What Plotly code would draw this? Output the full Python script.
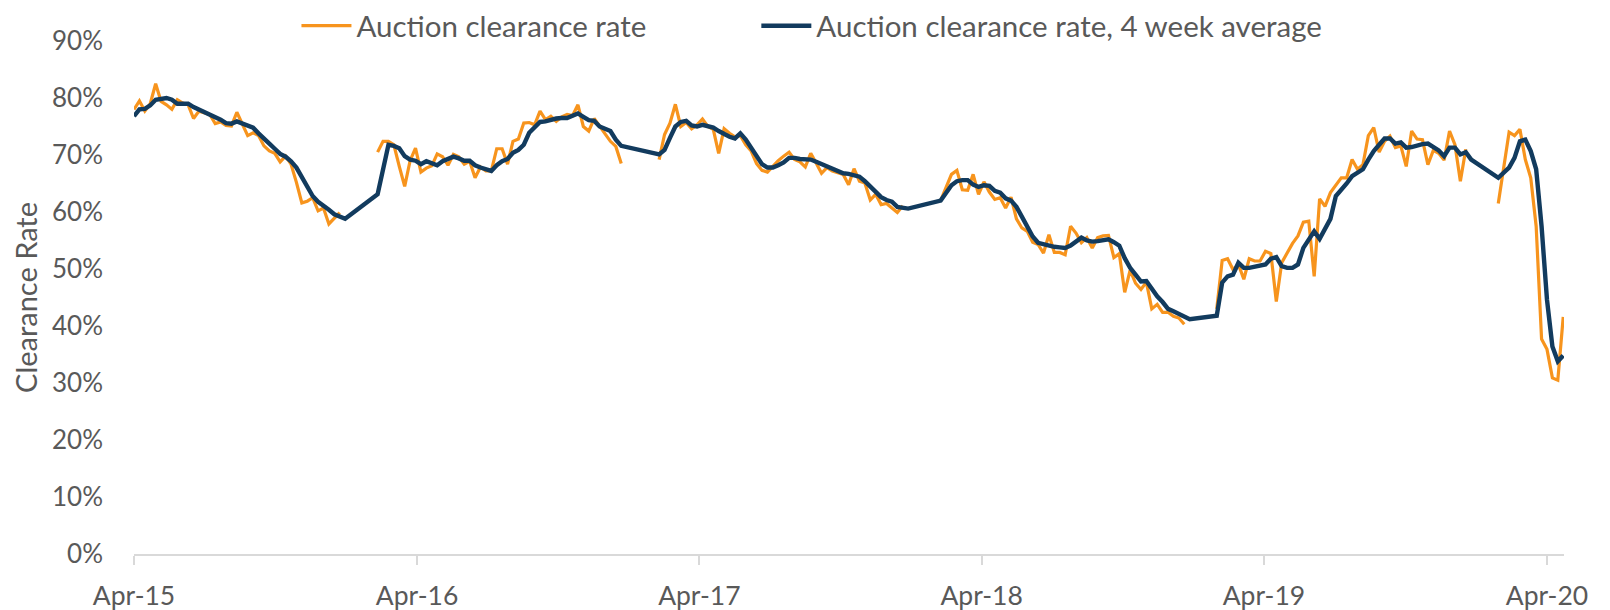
import pandas as pd
import plotly.graph_objects as go

# ---- data (weekly) ----
base_date = "2015-04-05"
season_week_offsets = [0, 45, 97, 149, 200, 252]

rate_s1 = [78.0, 79.5, 77.7, 79.0, 82.5, 79.4, 78.8, 78.0, 79.7, 79.1,
           78.8, 76.4, 77.7, 77.4, 77.1, 75.5, 75.8, 75.2, 75.1, 77.5,
           75.4, 73.4, 73.9, 73.4, 71.6, 70.7, 70.3, 68.8, 69.8, 68.4,
           65.2, 61.6, 61.9, 62.5, 60.2, 60.7, 57.9, 59.0, 59.9]
rate_s2 = [70.5, 72.4, 72.4, 71.8, 68.0, 64.5, 69.0, 71.2, 67.0, 67.7,
           68.1, 70.2, 69.7, 68.2, 70.1, 69.7, 68.4, 68.9, 66.0, 67.9,
           67.2, 67.2, 71.1, 71.1, 68.4, 72.4, 72.8, 75.6, 75.7, 75.3,
           77.7, 76.2, 76.8, 75.9, 76.7, 77.1, 76.9, 78.8, 75.0, 74.2,
           76.4, 75.0, 73.6, 72.4, 71.5, 68.5]
rate_s3 = [69.2, 73.6, 75.6, 78.9, 75.0, 75.7, 74.6, 75.3, 76.3, 75.0,
           74.5, 70.3, 74.6, 73.8, 73.2, 73.4, 71.8, 70.7, 68.5, 67.3,
           67.0, 68.1, 69.0, 69.8, 70.5, 69.2, 68.8, 67.9, 70.3, 68.6,
           66.8, 67.8, 67.2, 66.9, 66.6, 64.8, 67.6, 65.4, 65.1, 62.1,
           63.1, 61.3, 61.5, 60.7, 59.9, 61.1]
rate_s4 = [62.0, 64.3, 66.6, 67.3, 63.9, 63.8, 66.6, 63.1, 65.3, 63.5,
           62.2, 62.5, 60.7, 62.6, 58.8, 57.2, 56.6, 54.7, 54.3, 52.8,
           56.0, 52.9, 52.9, 52.5, 57.5, 56.3, 54.6, 55.5, 53.7, 55.5,
           55.8, 55.9, 52.0, 52.7, 45.9, 49.8, 47.5, 46.4, 47.7, 43.0,
           43.8, 42.4, 42.4, 41.7, 41.4, 40.3]
rate_s5 = [43.0, 51.5, 51.8, 49.9, 50.8, 48.2, 51.8, 51.4, 51.4, 53.1,
           52.7, 44.3, 51.1, 52.7, 54.5, 55.8, 58.2, 58.4, 48.7, 62.3,
           61.0, 63.4, 64.6, 66.0, 66.0, 69.2, 67.5, 68.3, 73.4, 74.8,
           70.5, 72.4, 73.3, 71.3, 71.6, 68.0, 74.2, 72.8, 72.7, 68.3,
           70.8, 70.3, 69.1, 74.2, 71.8, 65.4, 71.0]
rate_s6 = [61.5, 67.8, 74.0, 73.4, 74.5, 69.2, 66.0, 57.5, 37.7, 35.9,
           30.9, 30.5, 41.6]

avg_s1 = [76.8, 78.0, 78.1, 78.7, 79.7, 79.8, 80.0, 79.7, 79.0, 79.0,
          79.0, 78.4, 78.0, 77.6, 77.2, 76.8, 76.2, 75.6, 75.5, 75.9,
          75.6, 75.2, 74.8, 73.8, 72.8, 72.0, 71.1, 70.2, 69.7, 68.9,
          67.8, 66.0, 64.3, 62.8, 61.8, 61.2, 60.4, 59.6, 59.3, 58.8]
avg_s2 = [63.1, 67.5, 71.8, 71.6, 71.2, 69.8, 69.2, 69.0, 68.4, 68.9,
          68.6, 68.2, 68.9, 69.2, 69.7, 69.4, 69.0, 69.0, 68.2, 67.8,
          67.5, 67.2, 68.2, 68.9, 69.3, 70.4, 70.9, 71.8, 73.9, 74.8,
          75.8, 75.9, 76.2, 76.4, 76.5, 76.5, 76.9, 77.3, 76.7, 76.1,
          76.0, 75.0, 74.6, 74.2, 72.7, 71.6]
avg_s3 = [70.1, 70.9, 73.0, 75.0, 75.8, 76.0, 75.2, 75.0, 75.3, 75.0,
          74.8, 74.2, 73.6, 73.2, 72.9, 73.8, 72.7, 71.3, 69.9, 68.4,
          67.8, 67.8, 68.2, 68.7, 69.5, 69.5, 69.3, 69.2, 69.2, 68.8,
          68.4, 68.0, 67.8, 67.2, 66.8, 66.7, 66.5, 66.2, 65.4, 64.4,
          63.5, 62.6, 62.1, 61.8, 60.9, 60.7, 60.6]
avg_s4 = [62.0, 63.2, 64.7, 65.4, 65.6, 65.6, 64.8, 64.4, 64.7, 64.6,
          63.7, 63.4, 62.4, 62.0, 60.9, 59.2, 57.4, 55.7, 54.6, 54.3,
          54.1, 53.9, 53.8, 53.7, 54.1, 54.9, 55.5, 55.0, 54.8, 54.9,
          55.1, 55.2, 54.7, 54.1, 51.9, 50.2, 49.0, 47.8, 47.9, 46.4,
          45.2, 44.2, 43.0, 42.6, 42.1, 41.6, 41.2]
avg_s5 = [41.8, 47.6, 48.7, 49.0, 51.1, 50.2, 50.2, 50.4, 50.5, 50.8,
          51.8, 52.1, 50.5, 50.2, 50.2, 50.8, 53.7, 55.3, 56.6, 55.3,
          57.0, 58.8, 62.8, 63.8, 65.0, 66.3, 67.0, 67.5, 69.2, 70.7,
          71.8, 72.9, 72.9, 72.0, 72.2, 71.3, 71.4, 71.7, 71.9, 72.0,
          71.5, 70.8, 69.8, 71.3, 71.3, 70.1, 70.5, 69.2]
avg_s6 = [66.0, 66.8, 67.8, 69.5, 72.4, 72.7, 70.7, 67.5, 57.5, 44.6,
          36.4, 33.8, 34.8]

tick_dates = ["2015-04-05", "2016-04-05", "2017-04-05", "2018-04-05",
              "2019-04-05", "2020-04-05"]
tick_labels = ["Apr-15", "Apr-16", "Apr-17", "Apr-18", "Apr-19", "Apr-20"]
y_ticks = [0, 10, 20, 30, 40, 50, 60, 70, 80, 90]
y_tick_labels = ["0%", "10%", "20%", "30%", "40%", "50%", "60%", "70%",
                 "80%", "90%"]

# ---- build series ----
rate_seasons = [rate_s1, rate_s2, rate_s3, rate_s4, rate_s5, rate_s6]
avg_seasons = [avg_s1, avg_s2, avg_s3, avg_s4, avg_s5, avg_s6]
t0 = pd.Timestamp(base_date)


def season_dates(offset, n):
    return [t0 + pd.Timedelta(weeks=offset + i) for i in range(n)]


rate_x, rate_y = [], []
for off, vals in zip(season_week_offsets, rate_seasons):
    if rate_x:
        rate_x.append(None)
        rate_y.append(None)
    rate_x += season_dates(off, len(vals))
    rate_y += vals

avg_x, avg_y = [], []
for off, vals in zip(season_week_offsets, avg_seasons):
    avg_x += season_dates(off, len(vals))
    avg_y += vals

ORANGE = "#F7941D"
NAVY = "#123B5E"
GREY_TXT = "#595959"
AXIS = "#D9D9D9"
FONT = "Lato"

fig = go.Figure()
fig.add_trace(go.Scatter(x=rate_x, y=rate_y, mode="lines",
                         name="Auction clearance rate",
                         line=dict(color=ORANGE, width=3.2),
                         connectgaps=False, legend="legend"))
fig.add_trace(go.Scatter(x=avg_x, y=avg_y, mode="lines",
                         name="Auction clearance rate, 4 week average",
                         line=dict(color=NAVY, width=4.4),
                         connectgaps=True, legend="legend2"))

legend_common = dict(orientation="h", xanchor="left", y=1.0292,
                     yanchor="middle",
                     font=dict(family=FONT, size=29.5, color=GREY_TXT),
                     itemwidth=50, bgcolor="rgba(0,0,0,0)", borderwidth=0)

# the page body adds an 8px offset at top/left
fig.update_layout(
    width=1602, height=602,
    margin=dict(l=126, r=46, t=33, b=55.5, autoexpand=False),
    paper_bgcolor="white", plot_bgcolor="white",
    font=dict(family=FONT, color=GREY_TXT, size=29),
    showlegend=True,
    legend=dict(x=0.1136, **legend_common),
    legend2=dict(x=0.4352, **legend_common),
)
fig.update_xaxes(type="date", range=[t0, pd.Timestamp("2020-04-27")],
                 tickvals=tick_dates, ticktext=tick_labels,
                 showline=True, linecolor=AXIS, linewidth=1.5,
                 ticks="outside", tickcolor=AXIS, tickwidth=1.5, ticklen=9,
                 showgrid=False, zeroline=False, ticklabelstandoff=8,
                 tickfont=dict(family=FONT, size=26.5, color=GREY_TXT))
fig.update_yaxes(range=[0, 90], tickvals=y_ticks, ticktext=y_tick_labels,
                 showline=False, showgrid=False, zeroline=False,
                 ticks="", ticklabelstandoff=30,
                 tickfont=dict(family=FONT, size=26, color=GREY_TXT),
                 title=dict(text="Clearance Rate", standoff=12,
                            font=dict(family=FONT, size=29, color=GREY_TXT)))

fig.write_html("out.html")
